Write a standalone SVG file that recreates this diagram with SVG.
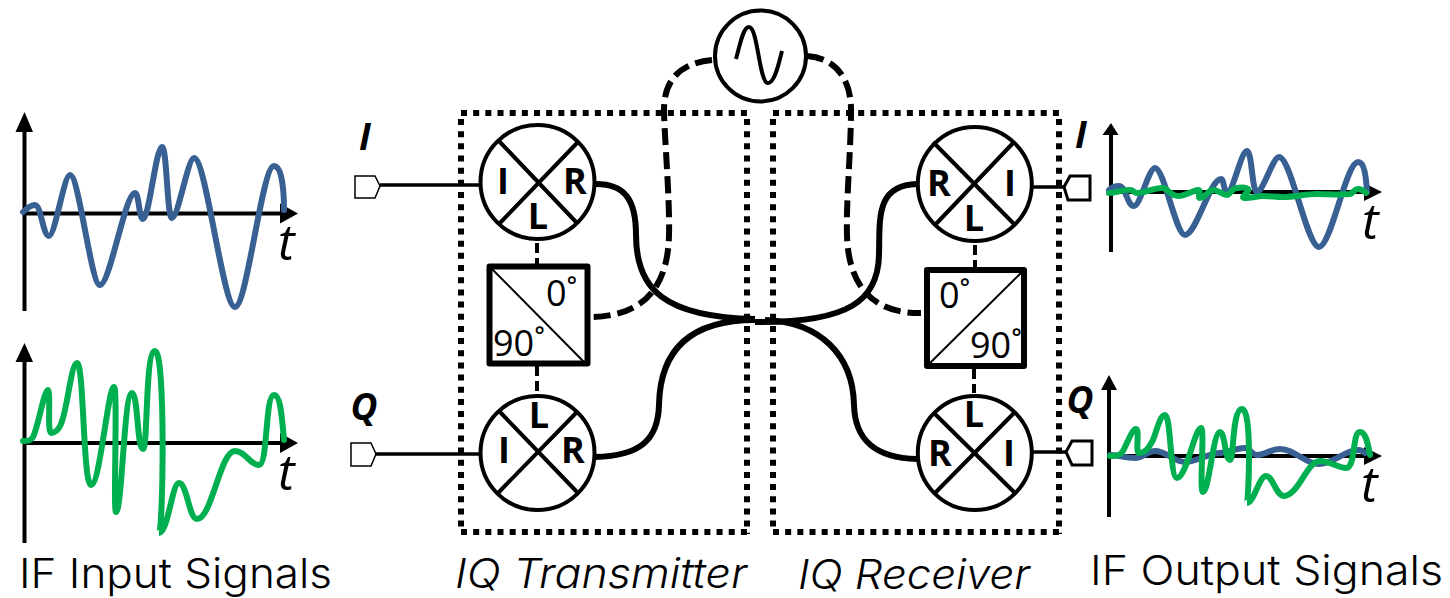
<svg xmlns="http://www.w3.org/2000/svg" width="1450" height="598" viewBox="0 0 1450 598">
<style>
text{fill:#000;font-family:"Open Sans","Liberation Sans",sans-serif}
.m{font-size:36px;font-weight:700;text-anchor:middle}
.p{font-size:37px;font-weight:700;font-style:italic;text-anchor:middle}
.d{font-size:36px}
.t{font-size:50px;font-style:italic;font-family:"Open Sans","Liberation Sans",sans-serif}
.c{font-family:Inter,"Liberation Sans",sans-serif;font-weight:300;font-size:41px}
.o{fill:#fff;stroke:#000;stroke-width:4}
.x{stroke:#000;stroke-width:4;fill:none}
.h{fill:#fff;stroke:#000;stroke-width:6;stroke-linejoin:round}
.g{stroke:#000;stroke-width:2}
.dot{stroke:#000;stroke-width:6;stroke-dasharray:6 6.17;fill:none}
.lo{stroke:#000;stroke-width:6;stroke-dasharray:17 7;fill:none}
.sl{stroke:#000;stroke-width:4;stroke-dasharray:10 5;fill:none}
.rf{stroke:#000;stroke-width:6;fill:none}
.if{stroke:#000;stroke-width:3.5;fill:none}
.ax{stroke:#000;stroke-width:4;fill:none}
.b{stroke:#386093;stroke-width:6;fill:none;stroke-linecap:round}
.gr{stroke:#00b050;stroke-width:6;fill:none;stroke-linecap:round}
</style>
<g id="box-transmitter">
<path class="dot" d="M461 113H747M461 532H747M461 119V527M747 119V534"/>
</g>
<g id="box-receiver">
<path class="dot" d="M773 113H1059M773 532H1059M773 119V527M1059 119V534"/>
</g>
<g id="connectors">
<path class="if" d="M380 185H480M376 454H479M1033 187H1064M1033 452H1066"/>
<path class="sl" d="M537 243V265M537 366V393M975 245V267M974 369V393"/>
<path class="lo" d="M712 60C680 63 664 80 664 110C664 130 670 200 669 235C668 280 650 316 591 317"/>
<path class="lo" d="M807 56C835 58 851 78 851 110C851 150 846 200 847 235C848 280 868 314 921 313"/>
<path class="rf" d="M596 184C625 184 636 200 636 235C636 290 665 317 755 319"/>
<path class="rf" d="M755 322C850 323 878 300 879 255C880 220 875 185 917 184"/>
<path class="rf" d="M595 457C640 456 658 440 659 405C660 350 690 320 755 320"/>
<path class="rf" d="M765 320C820 322 853 355 854 405C855 440 875 458 917 459"/>
</g>
<g id="lo">
<circle class="o" cx="760.5" cy="56" r="45.5"/>
<path class="x" d="M736 59C740 45 743 27 749 27C758 27 759 83 768 83C775 83 779 62 782 51"/>
</g>
<g id="mixer-tx-i">
<circle class="o" cx="537.500" cy="182" r="57"/>
<path class="x" d="M498 140L577 223M577 143L499 224"/>
<text class="m" x="503" y="194">I</text><text class="m" x="575" y="194">R</text><text class="m" x="538" y="229">L</text>
</g>
<g id="mixer-tx-q">
<circle class="o" cx="537.500" cy="453" r="57"/>
<path class="x" d="M499 411L577 492M577 412L498 493"/>
<text class="m" x="504" y="463">I</text><text class="m" x="573" y="463">R</text><text class="m" x="539" y="428">L</text>
</g>
<g id="hybrid-tx">
<rect class="h" x="489.500" y="266.500" width="98" height="97"/>
<path class="g" d="M492 269L584 362"/>
<text class="d" x="546" y="306">0˚</text><text class="d" x="493" y="356">90˚</text>
</g>
<g id="mixer-rx-i">
<circle class="o" cx="974.800" cy="184" r="57"/>
<path class="x" d="M933 142L1015 225M1014 142L935 225"/>
<text class="m" x="939" y="196">R</text><text class="m" x="1010" y="196">I</text><text class="m" x="974" y="231">L</text>
</g>
<g id="mixer-rx-q">
<circle class="o" cx="974.800" cy="453" r="57"/>
<path class="x" d="M934 413L1015 493M1014 413L935 493"/>
<text class="m" x="940" y="466">R</text><text class="m" x="1009" y="466">I</text><text class="m" x="974" y="427">L</text>
</g>
<g id="hybrid-rx">
<rect class="h" x="927" y="270" width="97" height="96"/>
<path class="g" d="M930 363L1022 272"/>
<text class="d" x="939" y="308">0˚</text><text class="d" x="970" y="358">90˚</text>
</g>
<g id="port-in-i">
<path d="M355 176H375L380 186L375 198H355Z" fill="#fff" stroke="#000" stroke-width="1.5"/>
<text class="p" x="365" y="150">I</text>
</g>
<g id="port-in-q">
<path d="M351 443H371L376 454L371 466H351Z" fill="#fff" stroke="#000" stroke-width="1.5"/>
<text class="p" x="364" y="420">Q</text>
</g>
<g id="port-out-i">
<path d="M1090 176H1070L1064 187L1068 200H1090Z" fill="#fff" stroke="#000" stroke-width="3"/>
<text class="p" x="1081" y="148">I</text>
</g>
<g id="port-out-q">
<path d="M1092 441H1072L1066 452L1072 465H1092Z" fill="#fff" stroke="#000" stroke-width="3"/>
<text class="p" x="1080" y="413">Q</text>
</g>
<g id="plot-in-i">
<path class="ax" d="M24.500 311V130M24 213.500H282"/>
<path d="M24.500 112L33 132H15.500Z"/><path d="M298 213.500L280 203.500V223.500Z"/>
<path class="b" d="M23 212C27 208 31 205 35 205C41 205 43 236 49 236C55 236 64 175 70 175C79 175 91 285 100 285C110 285 125 193 135 193C139 193 139 219 143 219C149 219 156 147 162 147C167 147 167 218 172 218C178 218 188 158 194 158C206 158 223 307 235 307C247 307 262 166 274 166C281 166 284 185 284 210"/>
<text class="t" x="278" y="260">t</text>
</g>
<g id="plot-in-q">
<path class="ax" d="M24.500 543V360M24 443H282"/>
<path d="M24.500 343L33 362H15.500Z"/><path d="M298 443L280 433V453Z"/>
<path class="gr" d="M23 441C28 441 31 441 33 437C38 428 44 390 48 390C51 390 47 433 51 433C60 433 63 420 66 405C70 385 73 363 77 363C84 363 83 485 91 485C100 485 108 387 114 387C118 387 113 512 116 512C122 512 124 393 132 393C138 393 137 449 143 449C148 449 145 351 155 351C166 351 163 533 159 533C168 533 172 483 179 483C187 483 189 519 197 519C212 519 220 451 235 451C245 451 250 465 259 465C268 465 265 395 274 395C281 395 282 420 284 440"/>
<text class="t" x="278" y="490">t</text>
</g>
<g id="plot-out-i">
<path class="ax" d="M1111 252V133M1110 192H1366"/>
<path d="M1111 123L1118.500 135H1102.500Z"/><path d="M1382 192L1364 183V201Z"/>
<path class="b" d="M1109 190C1112 187 1115 186 1119 186C1126 186 1127 206 1134 206C1140 206 1149 168 1155 168C1164 168 1176 235 1185 235C1196 235 1210 179 1221 179C1224 179 1224 193 1227 193C1233 193 1241 151 1247 151C1252 151 1252 192 1257 192C1263 192 1273 157 1279 157C1291 157 1307 247 1319 247C1331 247 1346 162 1358 162C1364 162 1366 175 1367 192"/>
<path class="gr" d="M1109 193C1116 193 1124 189 1130 190C1134 190 1134 193 1137 193C1146 193 1155 187 1163 188C1168 189 1171 196 1178 196C1185 196 1192 191 1198 190C1202 190 1197 198 1200 198C1205 198 1208 190 1213 190C1219 190 1222 195 1227 195C1230 195 1232 188 1237 188C1241 187 1250 187 1248 191C1246 194 1240 198 1245 198C1252 198 1257 196 1263 196C1270 196 1276 197 1283 197C1295 197 1305 194 1317 194C1328 194 1340 195 1350 194C1354 193 1354 189 1358 189C1361 189 1364 191 1366 193"/>
<text class="t" x="1362" y="239">t</text>
</g>
<g id="plot-out-q">
<path class="ax" d="M1109 517V388M1108 456H1366"/>
<path d="M1109 375L1117 390H1101Z"/><path d="M1382 456L1364 447V465Z"/>
<path class="b" d="M1110 455C1118 455 1125 458 1135 458C1142 458 1148 451 1155 451C1166 451 1174 462 1185 462C1197 462 1208 453 1220 453C1228 453 1235 448 1245 448C1250 448 1252 455 1257 455C1265 455 1271 449 1280 449C1295 449 1305 464 1319 464C1333 464 1345 450 1358 450C1361 450 1363 451 1365 453"/>
<path class="gr" d="M1110 456C1116 456 1120 456 1123 451C1127 444 1132 429 1136 429C1140 429 1135 453 1139 453C1146 453 1149 447 1153 440C1157 430 1160 415 1165 415C1171 415 1170 478 1177 478C1186 478 1195 428 1201 428C1205 428 1199 492 1203 492C1209 492 1213 432 1220 432C1225 432 1225 460 1230 460C1234 460 1232 409 1242 409C1253 409 1248 503 1247 503C1254 503 1259 476 1266 476C1273 476 1276 496 1284 496C1298 496 1307 461 1320 461C1330 461 1338 468 1346 468C1356 468 1352 432 1360 432C1366 432 1368 445 1370 455"/>
<text class="t" x="1361" y="502">t</text>
</g>
<g id="captions">
<text class="c" x="19" y="588" textLength="313" lengthAdjust="spacingAndGlyphs">IF Input Signals</text>
<text class="c" x="455" y="588" font-style="italic" textLength="292" lengthAdjust="spacingAndGlyphs">IQ Transmitter</text>
<text class="c" x="798" y="589" font-style="italic" textLength="232" lengthAdjust="spacingAndGlyphs">IQ Receiver</text>
<text class="c" x="1090" y="585" textLength="353" lengthAdjust="spacingAndGlyphs">IF Output Signals</text>
</g>
</svg>
